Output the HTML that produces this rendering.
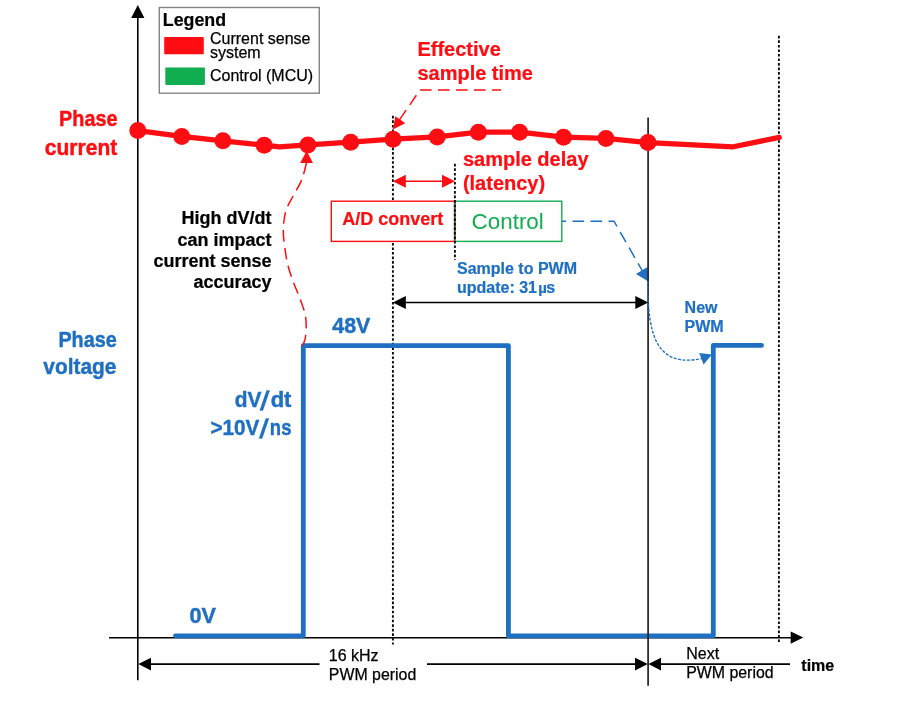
<!DOCTYPE html>
<html lang="en">
<head>
<meta charset="utf-8">
<title>PWM current sense timing</title>
<style>
html,body{margin:0;padding:0;background:#fff;}
body{width:916px;height:703px;overflow:hidden;}
svg{display:block;}
text{font-family:"Liberation Sans",Arial,Helvetica,sans-serif;}
.b{font-weight:bold;stroke:#000;stroke-width:0.22px;}
.r{stroke:#000;stroke-width:0.25px;}
.red{fill:#ff0d12;stroke:#ff0d12;}
.blue{fill:#1f6fc3;stroke:#1f6fc3;}
.cal{font-weight:bold;}
</style>
</head>
<body>
<svg width="916" height="703" viewBox="0 0 916 703">
<rect x="0" y="0" width="916" height="703" fill="#ffffff"/>

<!-- dotted guide lines -->
<g stroke="#0a0a0a" stroke-width="1.9" stroke-dasharray="2.6 1.94" fill="none">
  <line x1="392.9" y1="115.8" x2="392.9" y2="644.5"/>
  <line x1="778.9" y1="35.8" x2="778.9" y2="642"/>
</g>

<!-- axes -->
<g stroke="#000" stroke-width="1.6" fill="none">
  <line x1="137.8" y1="16" x2="137.8" y2="680.3"/>
  <line x1="109" y1="637.8" x2="792" y2="637.8"/>
</g>
<polygon points="137.8,5 144.4,18.1 131.2,18.1" fill="#000"/>
<polygon points="803.3,637.6 790.7,631.4 790.7,643.8" fill="#000"/>

<!-- legend -->
<rect x="159.3" y="7.5" width="160" height="85.7" fill="#fff" stroke="#858585" stroke-width="1.4"/>
<text x="162.8" y="25.8" class="b" font-size="17.8">Legend</text>
<rect x="164.2" y="37" width="39.6" height="17.2" rx="0.8" fill="#ff0d12"/>
<rect x="165.3" y="67.4" width="39.6" height="17.5" rx="0.8" fill="#10ae50"/>
<text x="210" y="44.3" font-size="16" class="r">Current sense</text>
<text x="210" y="57.6" font-size="16" class="r">system</text>
<text x="210" y="81" font-size="16" class="r">Control (MCU)</text>

<!-- phase voltage waveform -->
<polyline points="175.5,635.8 303.3,635.8 303.3,345.6 508.4,345.6 508.4,635.8 713.3,635.8 713.3,345.4 761.5,345.4"
  fill="none" stroke="#1f6fc3" stroke-width="4.8" stroke-linejoin="round" stroke-linecap="round"/>

<!-- red dashed S-curve -->
<path d="M306.5,162.8 C305.7,165.7 303.9,174.4 301.7,179.9 C299.5,185.4 295.9,190.5 293.2,195.8 C290.5,201.1 287.2,206.1 285.6,211.9 C284.0,217.7 283.4,224.4 283.3,230.4 C283.2,236.4 284.1,242.3 284.9,248.2 C285.7,254.1 286.5,259.9 288.0,265.7 C289.5,271.5 291.6,277.4 293.7,283.0 C295.8,288.6 298.3,293.9 300.3,299.5 C302.3,305.1 304.7,311.0 305.6,316.9 C306.5,322.8 306.2,330.4 305.8,335.0 C305.4,339.6 303.6,343.1 302.7,346.4"
  fill="none" stroke="#ff0d12" stroke-width="1.5" stroke-dasharray="11.6 6.4"/>
<polygon points="306.6,151 313,162.9 300.1,162.9" fill="#ff0d12"/>

<!-- effective sample time pointer -->
<polyline points="501,90 420,90 399,120.5" fill="none" stroke="#ff0d12" stroke-width="1.5" stroke-dasharray="11.6 6.4" stroke-dashoffset="2.6"/>
<polygon points="392.8,129.4 395.4,116.2 405.3,123.2" fill="#ff0d12"/>
<text x="417.4" y="55.8" class="b red" font-size="20">Effective</text>
<text x="417.4" y="79.5" class="b red" font-size="20">sample time</text>

<!-- sample delay arrow -->
<line x1="400" y1="181.2" x2="448" y2="181.2" stroke="#ff0d12" stroke-width="1.6"/>
<polygon points="392.8,181.2 405.8,174.7 405.8,187.7" fill="#ff0d12"/>
<polygon points="455,181.2 442,174.7 442,187.7" fill="#ff0d12"/>
<text x="462.9" y="166" class="b red" font-size="20">sample delay</text>
<text x="462.9" y="190" class="b red" font-size="20">(latency)</text>

<!-- boxes -->
<rect x="331.3" y="201.2" width="123.2" height="40.2" fill="#fff" stroke="#ff0d12" stroke-width="1.4"/>
<rect x="455.3" y="201.2" width="106.5" height="40.2" fill="#fff" stroke="#10ae50" stroke-width="1.4"/>
<line x1="454.9" y1="163.8" x2="454.9" y2="260" stroke="#0a0a0a" stroke-width="1.9" stroke-dasharray="2.6 1.94"/>
<text x="342.3" y="224.5" class="b red" font-size="18">A/D convert</text>
<text x="471.6" y="229" font-size="22.4" fill="#10ae50">Control</text>

<!-- high dV/dt note -->
<g class="b" font-size="18" text-anchor="end" fill="#000">
  <text x="271.5" y="223.8">High dV/dt</text>
  <text x="271.5" y="245.8">can impact</text>
  <text x="271.5" y="266.8">current sense</text>
  <text x="271.5" y="288.3">accuracy</text>
</g>

<!-- sample to PWM -->
<text x="457" y="273.5" class="b blue" font-size="16">Sample to PWM</text>
<text x="457" y="292.5" class="b blue" font-size="16">update: 31<tspan font-size="15" dx="1.2">µ</tspan><tspan dx="-0.5">s</tspan></text>
<line x1="400" y1="302.5" x2="642" y2="302.5" stroke="#000" stroke-width="1.5"/>
<polygon points="392.8,302.5 405.8,295.9 405.8,309.1" fill="#000"/>
<polygon points="648.3,302.5 635.3,295.9 635.3,309.1" fill="#000"/>

<!-- control to new pwm pointer -->
<polyline points="562,221.2 614,221.2 643,272" fill="none" stroke="#1f6fc3" stroke-width="1.5" stroke-dasharray="11.6 6.4" stroke-dashoffset="7.5"/>
<polygon points="648.4,281.6 647.6,267 636,273.9" fill="#1f6fc3"/>
<polygon points="711.9,354.6 699.2,353.1 703.6,364.5" fill="#1f6fc3"/>
<text x="684.6" y="312.5" class="b blue" font-size="16">New</text>
<text x="684.6" y="331.5" class="b blue" font-size="16">PWM</text>

<!-- next-period boundary -->
<line x1="648.1" y1="117.5" x2="648.1" y2="685.8" stroke="#222" stroke-width="1.7"/>
<path d="M647.8,281.5 C647.6,338 657.5,367.5 702,358.6" fill="none" stroke="#1f6fc3" stroke-width="1.4" stroke-dasharray="3 1.5"/>

<!-- phase current -->
<polyline points="137.8,130.6 181.8,136.4 222.9,140.8 264.2,145.2 279.3,146.8 307.9,144.9 350.7,142.2 393.0,139.2 437.2,136.9 478.4,132.2 519.6,132.2 563.5,137.2 606.0,138.4 648.0,142.6 733.3,146.8 779.3,137.4"
  fill="none" stroke="#ff0d12" stroke-width="5.2" stroke-linejoin="round" stroke-linecap="round"/>
<g fill="#ff0d12">
  <circle cx="137.8" cy="130.6" r="8.5"/>
  <circle cx="181.8" cy="136.4" r="8.5"/>
  <circle cx="222.9" cy="140.8" r="8.5"/>
  <circle cx="264.2" cy="145.2" r="8.5"/>
  <circle cx="307.9" cy="144.9" r="8.5"/>
  <circle cx="350.7" cy="142.2" r="8.5"/>
  <circle cx="393.0" cy="139.2" r="8.5"/>
  <circle cx="437.2" cy="136.9" r="8.5"/>
  <circle cx="478.4" cy="132.2" r="8.5"/>
  <circle cx="519.6" cy="132.2" r="8.5"/>
  <circle cx="563.5" cy="137.2" r="8.5"/>
  <circle cx="606.0" cy="138.4" r="8.5"/>
  <circle cx="648.0" cy="142.6" r="8.5"/>
</g>

<!-- calibri-like labels -->
<g class="cal" font-size="22" text-anchor="end" fill="#ff0d12" stroke="#ff0d12" stroke-width="0.45" stroke-linejoin="round">
  <text transform="translate(117.4,126) scale(0.9,1)">Phase</text>
  <text transform="translate(117.2,155) scale(0.955,1)">current</text>
</g>
<g class="cal" font-size="22" text-anchor="end" fill="#1f6fc3" stroke="#1f6fc3" stroke-width="0.45" stroke-linejoin="round">
  <text transform="translate(116.7,346.8) scale(0.9,1)">Phase</text>
  <text transform="translate(116.4,374.4) scale(0.95,1)">voltage</text>
  <text transform="translate(261.4,407.2) scale(0.95,1)">dV</text>
  <text transform="translate(259.6,409.5) skewX(-8.7)" font-size="27" text-anchor="start" stroke-width="0.2">/</text>
  <text transform="translate(291.4,407.2) scale(1,1)">dt</text>
  <text transform="translate(259.3,434.8) scale(0.94,1)">&gt;10V</text>
  <text transform="translate(258.8,437.9) skewX(-8.7)" font-size="27" text-anchor="start" stroke-width="0.2">/</text>
  <text transform="translate(291.4,434.8) scale(0.84,1)">ns</text>
</g>
<g class="cal" font-size="22" fill="#1f6fc3" stroke="#1f6fc3" stroke-width="0.45" stroke-linejoin="round">
  <text transform="translate(332.2,333) scale(0.975,1)">48V</text>
  <text transform="translate(189.4,623.2) scale(0.985,1)">0V</text>
</g>

<!-- period arrows -->
<line x1="144" y1="664.1" x2="642" y2="664.1" stroke="#000" stroke-width="1.6"/>
<polygon points="138.3,664.1 151,657.7 151,670.5" fill="#000"/>
<polygon points="647.8,664.1 635,657.7 635,670.5" fill="#000"/>
<rect x="319.5" y="645" width="107.5" height="40" fill="#fff"/>
<text x="328.8" y="660.5" font-size="16" class="r">16 kHz</text>
<text x="328.8" y="679.5" font-size="15.9" class="r">PWM period</text>
<line x1="654" y1="664.1" x2="790" y2="664.1" stroke="#000" stroke-width="1.6"/>
<polygon points="648.4,664.1 661,657.7 661,670.5" fill="#000"/>
<text x="686.3" y="658.8" font-size="16" class="r">Next</text>
<text x="686.2" y="677.8" font-size="15.9" class="r">PWM period</text>
<text x="801.3" y="670.8" class="b" font-size="16">time</text>
</svg>
</body>
</html>
